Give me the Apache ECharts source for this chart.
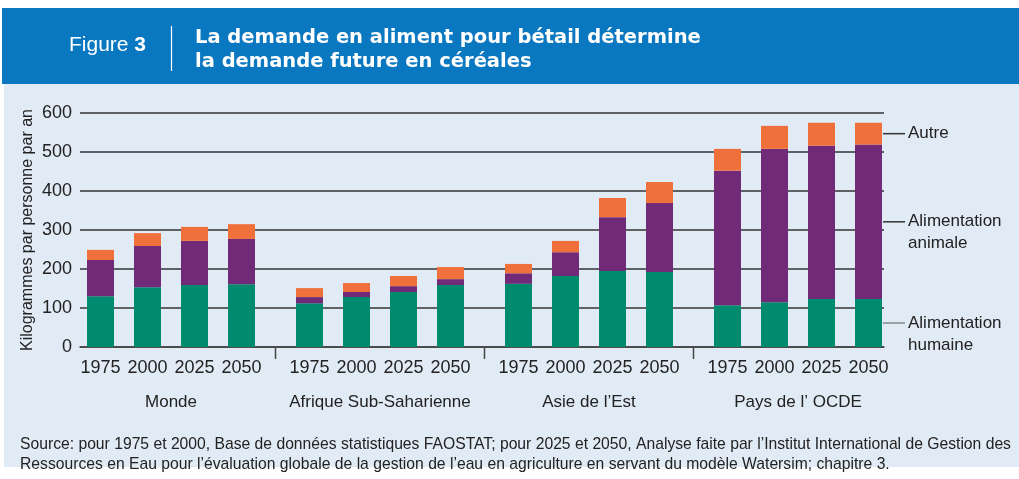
<!DOCTYPE html>
<html lang="fr">
<head>
<meta charset="UTF-8">
<script src="https://cdn.jsdelivr.net/npm/echarts@6/dist/echarts.min.js"></script>
<style>
  html, body { margin: 0; padding: 0; background: #fff; }
  #chart { width: 1019px; height: 479px; }
</style>
</head>
<body>
<div id="chart"></div>
<script>
// data (kg par personne par an)
var years = ['1975', '2000', '2025', '2050'];
var regions = ['Monde', 'Afrique Sub-Saharienne', 'Asie de l\u2019Est', 'Pays de l\u2019 OCDE'];
var humaine = [[130, 153, 159, 161], [112, 128, 141, 159], [162, 182, 195, 192], [107, 115, 123, 123]];
var animale = [[93, 106, 113, 116], [16, 13, 15, 15], [27, 61, 138, 177], [345, 393, 393, 396]];
var autre = [[26, 33, 36, 38], [23, 23, 26, 31], [24, 29, 49, 54], [56, 59, 59, 56]];
var yMin = 0, yMax = 600, yStep = 100;

var FONT = 'Liberation Sans';
var GREEN = '#008a6e', PURPLE = '#702a78', ORANGE = '#f0703c';
var TXT = '#222';

// layout
var TOP = 113, H = 234;
var GL = 77, GP = 209, GW = 188;   // group grid left, pitch, width

var chart = echarts.init(document.getElementById('chart'));

var grids = [{ left: 80, width: 804, top: TOP, height: H }];
var xAxes = [{
    gridIndex: 0, type: 'value', min: 0, max: 1,
    axisLine: { show: true, lineStyle: { color: '#444', width: 1.5 } },
    axisTick: { show: false }, axisLabel: { show: false }, splitLine: { show: false }
}];
var yAxes = [{
    gridIndex: 0, type: 'value', min: yMin, max: yMax, interval: yStep,
    name: 'Kilogrammes par personne par an', nameLocation: 'middle', nameGap: 44,
    nameMoveOverlap: false,
    nameTextStyle: { fontFamily: FONT, fontSize: 16, color: TXT },
    axisLine: { show: false }, axisTick: { show: false },
    axisLabel: { fontFamily: FONT, fontSize: 18, color: TXT, margin: 8 },
    splitLine: { lineStyle: { color: '#333', width: 1.5 } }
}];
var series = [];

var sideLabels = {
    humaine: { text: '{l|}{t|Alimentation}\n{s|}{t|humaine}', color: '#888', dy: 11 },
    animale: { text: '{l|}{t|Alimentation}\n{s|}{t|animale}', color: '#333', dy: 11 },
    autre: { text: '{l|}{t|Autre}', color: '#333', dy: 0 }
};

function makeData(values, g, key) {
    return values.map(function (v, i) {
        if (g === regions.length - 1 && i === values.length - 1) {
            var s = sideLabels[key];
            return {
                value: v,
                label: {
                    show: true, position: 'right', distance: 1, offset: [0, s.dy],
                    formatter: s.text,
                    rich: {
                        l: { width: 22, height: 1.5, backgroundColor: s.color },
                        s: { width: 22 },
                        t: { fontFamily: FONT, fontSize: 17, color: TXT, lineHeight: 22, padding: [0, 0, 0, 3] }
                    }
                }
            };
        }
        return v;
    });
}

regions.forEach(function (r, g) {
    var gi = g + 1;
    grids.push({ left: GL + g * GP, width: GW, top: TOP, height: H });
    xAxes.push({
        gridIndex: gi, type: 'category', data: years,
        name: r, nameLocation: 'middle', nameGap: 47,
        nameTextStyle: { fontFamily: FONT, fontSize: 17, color: TXT },
        axisLine: { show: false }, axisTick: { show: false },
        axisLabel: { fontFamily: FONT, fontSize: 18, color: TXT, margin: 12, interval: 0, hideOverlap: false }
    });
    yAxes.push({ gridIndex: gi, type: 'value', min: yMin, max: yMax, show: false });
    [['humaine', humaine, GREEN], ['animale', animale, PURPLE], ['autre', autre, ORANGE]].forEach(function (s) {
        series.push({
            type: 'bar', name: s[0], stack: 'g' + g,
            xAxisIndex: gi, yAxisIndex: gi,
            barWidth: 27,
            itemStyle: { color: s[2] },
            data: makeData(s[1][g], g, s[0])
        });
    });
});

// small separator ticks between the groups
var seps = [];
for (var k = 1; k < regions.length; k++) {
    var sx = GL + k * GP - (GP - GW) / 2;
    seps.push({ type: 'line', shape: { x1: sx, y1: TOP + H, x2: sx, y2: TOP + H + 12 },
        style: { stroke: '#444', lineWidth: 1.5 }, z: 10 });
}

var option = {
    backgroundColor: '#fff',
    animation: false,
    textStyle: { fontFamily: FONT },
    title: [
        { text: 'Figure {b|3}', left: 69, top: 35, padding: 0,
          textStyle: { fontFamily: FONT, fontSize: 21, fontWeight: 'normal', color: '#fff',
              rich: { b: { fontFamily: FONT, fontSize: 21, fontWeight: 'bold', color: '#fff' } } } },
        { text: 'La demande en aliment pour b\u00e9tail d\u00e9termine\nla demande future en c\u00e9r\u00e9ales',
          left: 195, top: 26, padding: 0,
          textStyle: { fontFamily: 'DejaVu Sans', fontSize: 19.5, fontWeight: 'bold', color: '#fff', lineHeight: 24 } },
        { text: 'Source: pour 1975 et 2000, Base de donn\u00e9es statistiques FAOSTAT; pour 2025 et 2050, Analyse faite par l\u2019Institut International de Gestion des\nRessources en Eau pour l\u2019\u00e9valuation globale de la gestion de l\u2019eau en agriculture en servant du mod\u00e8le Watersim; chapitre 3.',
          left: 20, top: 435, padding: 0,
          textStyle: { fontFamily: FONT, fontSize: 15.7, fontWeight: 'normal', color: TXT, lineHeight: 20 } }
    ],
    graphic: [
        { type: 'rect', shape: { x: 2, y: 8, width: 1017, height: 76 }, style: { fill: '#0a77c1' }, z: -10 },
        { type: 'rect', shape: { x: 4, y: 84, width: 1015, height: 383 }, style: { fill: '#e1ebf5' }, z: -10 },
        { type: 'line', shape: { x1: 171.5, y1: 26, x2: 171.5, y2: 71 }, style: { stroke: '#fff', lineWidth: 1.2 } }
    ].concat(seps),
    grid: grids,
    xAxis: xAxes,
    yAxis: yAxes,
    series: series
};
chart.setOption(option);
</script>
</body>
</html>
